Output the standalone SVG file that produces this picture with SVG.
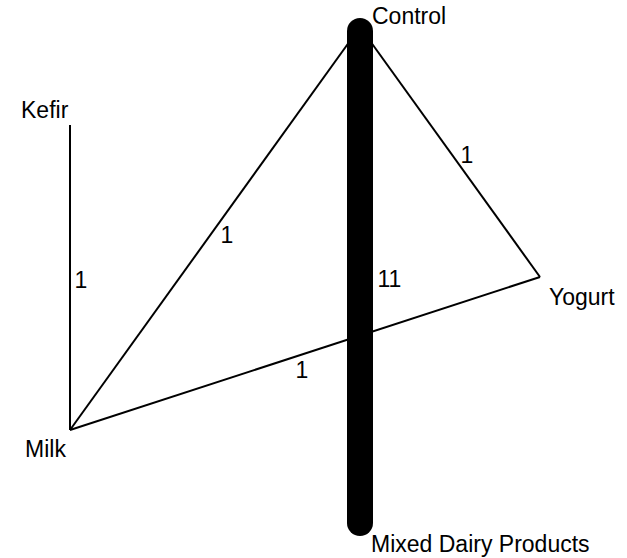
<svg xmlns="http://www.w3.org/2000/svg" width="627" height="558" viewBox="0 0 627 558">
<style>
text{font-family:"Liberation Sans",Arial,sans-serif;font-size:23px;fill:#000}
.e{stroke:#000;stroke-width:2;fill:none}
.thick{stroke:#000;stroke-width:26;stroke-linecap:round;fill:none}
</style>
<rect width="627" height="558" fill="#fff"/>
<g id="connectors">
<line class="e" x1="70" y1="125" x2="70" y2="430"/>
<line class="e" x1="70" y1="430" x2="360" y2="27"/>
<line class="e" x1="360" y1="27" x2="540" y2="277"/>
<line class="e" x1="70" y1="430" x2="540" y2="277"/>
<line class="thick" x1="360" y1="31" x2="360" y2="523"/>
<text x="74.5" y="288">1</text>
<text x="220.5" y="243">1</text>
<text x="460.5" y="163">1</text>
<text x="295.5" y="378">1</text>
<text x="377.5" y="287">11</text>
</g>
<g id="control"><text x="372" y="24">Control</text></g>
<g id="kefir"><text x="21" y="118">Kefir</text></g>
<g id="milk"><text x="25" y="457">Milk</text></g>
<g id="yogurt"><text x="549" y="305">Yogurt</text></g>
<g id="mixed"><text x="371" y="552">Mixed Dairy Products</text></g>
</svg>
